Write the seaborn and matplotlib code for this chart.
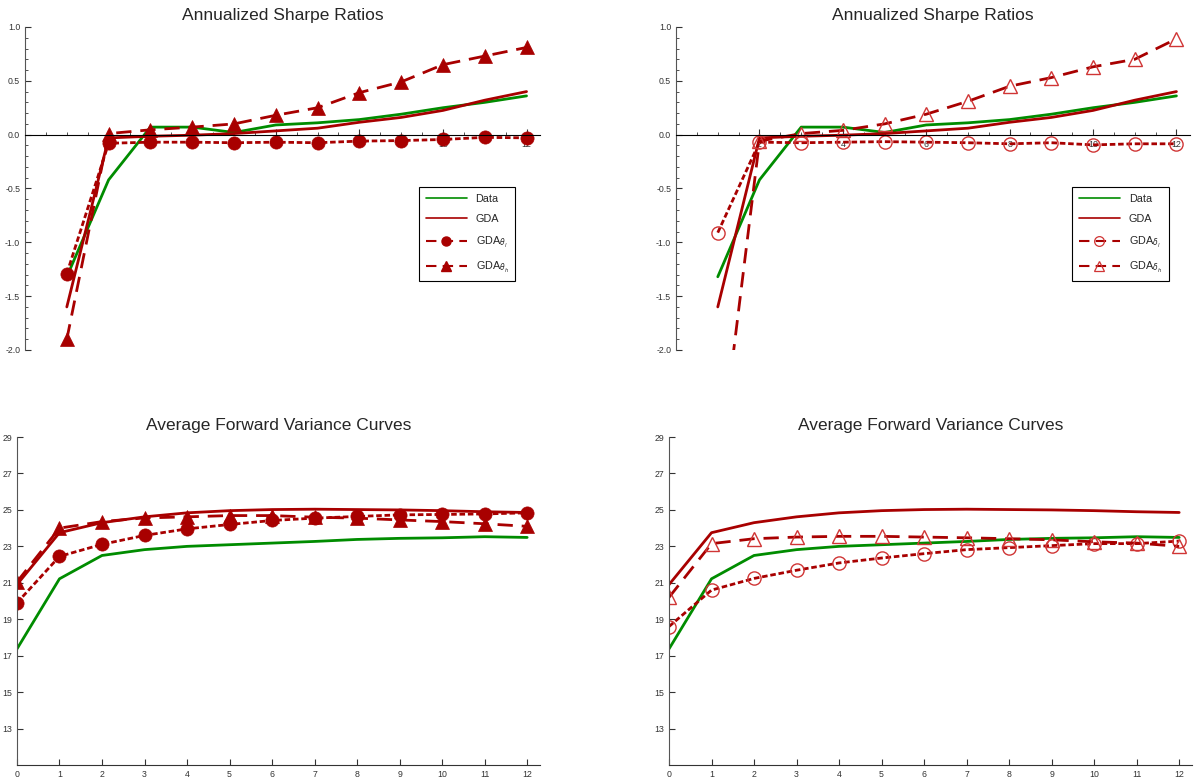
import matplotlib
matplotlib.use("Agg")
import matplotlib.pyplot as plt
import matplotlib.ticker as mticker
from matplotlib.lines import Line2D
import pandas as pd
import seaborn as sns

sns.set_style("ticks")
plt.rcParams['font.family'] = ['Liberation Sans', 'DejaVu Sans']
plt.rcParams['axes.unicode_minus'] = False

# horizons
h_sharpe = [1, 2, 3, 4, 5, 6, 7, 8, 9, 10, 11, 12]
h_fv = [0, 1, 2, 3, 4, 5, 6, 7, 8, 9, 10, 11, 12]

# Annualized Sharpe ratios
sharpe_data = [-1.32, -0.42, 0.07, 0.07, 0.02, 0.09, 0.11, 0.14, 0.19, 0.25, 0.30, 0.36]
sharpe_gda = [-1.60, -0.03, -0.015, -0.005, 0.01, 0.035, 0.06, 0.115, 0.16, 0.225, 0.32, 0.40]
sharpe_theta_l = [-1.29, -0.08, -0.07, -0.07, -0.075, -0.07, -0.075, -0.06, -0.055, -0.045, -0.025, -0.03]
sharpe_theta_h = [-1.90, 0.01, 0.045, 0.07, 0.10, 0.18, 0.25, 0.39, 0.49, 0.65, 0.73, 0.81]
sharpe_delta_l = [-0.91, -0.07, -0.075, -0.07, -0.065, -0.07, -0.075, -0.085, -0.075, -0.095, -0.085, -0.085]
sharpe_delta_h = [-3.20, -0.06, 0.01, 0.04, 0.10, 0.19, 0.31, 0.45, 0.53, 0.63, 0.70, 0.89]

# Average forward variance curves
fv_data = [17.37, 21.22, 22.50, 22.82, 23.00, 23.09, 23.18, 23.27, 23.38, 23.44, 23.47, 23.53, 23.49]
fv_gda = [20.90, 23.75, 24.30, 24.62, 24.84, 24.96, 25.02, 25.04, 25.02, 25.00, 24.96, 24.90, 24.86]
fv_theta_l = [19.90, 22.45, 23.11, 23.60, 23.96, 24.20, 24.42, 24.55, 24.64, 24.73, 24.75, 24.78, 24.84]
fv_theta_h = [21.05, 24.00, 24.36, 24.56, 24.62, 24.69, 24.69, 24.60, 24.55, 24.45, 24.36, 24.24, 24.10]
fv_delta_l = [18.60, 20.60, 21.24, 21.69, 22.09, 22.36, 22.60, 22.82, 22.93, 23.04, 23.15, 23.15, 23.29]
fv_delta_h = [20.20, 23.15, 23.42, 23.51, 23.55, 23.55, 23.51, 23.47, 23.42, 23.36, 23.25, 23.18, 23.00]

GREEN = "#008C00"
RED = "#A80000"
LRED = "#D03535"
DOT = (0, (2.0, 1.0))
DASH = (0, (5.5, 3.2))
LW = 2.0


def draw(ax, x, data, gda, low, high, open_mk):
    df = pd.DataFrame({"h": x, "data": data, "gda": gda, "low": low, "high": high})
    sns.lineplot(data=df, x="h", y="data", ax=ax, color=GREEN, lw=LW, legend=False)
    sns.lineplot(data=df, x="h", y="gda", ax=ax, color=RED, lw=LW, legend=False)
    if open_mk:
        mk = dict(markerfacecolor="none", markeredgecolor=LRED, markeredgewidth=1.0, markersize=9.5)
    else:
        mk = dict(markerfacecolor=RED, markeredgecolor=RED, markeredgewidth=0.5, markersize=9.5)
    sns.lineplot(data=df, x="h", y="low", ax=ax, color=RED, lw=LW, linestyle=DOT,
                 marker="o", legend=False, **mk)
    sns.lineplot(data=df, x="h", y="high", ax=ax, color=RED, lw=LW, linestyle=DASH,
                 marker="^", legend=False, **mk)
    ax.set_xlabel("")
    ax.set_ylabel("")
    for s in ["top", "right"]:
        ax.spines[s].set_visible(False)
    ax.tick_params(direction="in", labelsize=6.3, colors="#333333", length=4, width=0.8)
    ax.tick_params(which="minor", direction="in", length=2.5, width=0.6, colors="#333333")


def add_legend(ax, sub_l, sub_h, open_mk, anchor):
    if open_mk:
        mk = dict(markerfacecolor="none", markeredgecolor=LRED, markeredgewidth=0.9, markersize=7)
    else:
        mk = dict(markerfacecolor=RED, markeredgecolor=RED, markersize=6.5)
    handles = [
        Line2D([], [], color=GREEN, lw=1.2),
        Line2D([], [], color=RED, lw=1.2),
        Line2D([], [], color=RED, lw=1.5, linestyle=(0, (5, 3)), marker="o", **mk),
        Line2D([], [], color=RED, lw=1.5, linestyle=(0, (5, 3)), marker="^", **mk),
    ]
    labels = ["Data", "GDA", "GDA$_{%s}$" % sub_l, "GDA$_{%s}$" % sub_h]
    leg = ax.legend(handles, labels, loc="upper left", bbox_to_anchor=anchor, fontsize=7.8,
                    frameon=True, fancybox=False, edgecolor="black", framealpha=1,
                    handlelength=3.8, labelspacing=0.95, borderpad=0.6, numpoints=1,
                    handletextpad=0.8)
    leg.get_frame().set_linewidth(0.8)


fig = plt.figure(figsize=(12.03, 7.8), dpi=100)
ax_tl = fig.add_axes([0.0208, 0.5513, 0.428, 0.4141])
ax_tr = fig.add_axes([0.5620, 0.5513, 0.427, 0.4141])
ax_bl = fig.add_axes([0.0141, 0.0192, 0.4347, 0.4205])
ax_br = fig.add_axes([0.5561, 0.0192, 0.4347, 0.4205])

panels = [
    (ax_tl, h_sharpe, sharpe_data, sharpe_gda, sharpe_theta_l, sharpe_theta_h, False),
    (ax_tr, h_sharpe, sharpe_data, sharpe_gda, sharpe_delta_l, sharpe_delta_h, True),
    (ax_bl, h_fv, fv_data, fv_gda, fv_theta_l, fv_theta_h, False),
    (ax_br, h_fv, fv_data, fv_gda, fv_delta_l, fv_delta_h, True),
]
for ax, x, d, g, lo, hi, op in panels:
    draw(ax, x, d, g, lo, hi, op)

for ax in [ax_tl, ax_tr]:
    ax.set_xlim(0, 12.32)
    ax.set_ylim(-2.0, 1.0)
    ax.spines["bottom"].set_position(("data", 0))
    ax.spines["bottom"].set_color("black")
    ax.spines["left"].set_color("#555555")
    ax.set_xticks([2, 4, 6, 8, 10, 12])
    ax.xaxis.set_minor_locator(mticker.MultipleLocator(0.5))
    ax.set_yticks([-2.0, -1.5, -1.0, -0.5, 0.0, 0.5, 1.0])
    ax.yaxis.set_minor_locator(mticker.MultipleLocator(0.1))
    ax.yaxis.set_major_formatter(mticker.FormatStrFormatter("%.1f"))
    ax.set_title("Annualized Sharpe Ratios", fontsize=12.5, pad=5)

for ax in [ax_bl, ax_br]:
    ax.set_xlim(0, 12.3)
    ax.set_ylim(11, 29)
    ax.spines["bottom"].set_color("#333333")
    ax.spines["left"].set_color("#555555")
    ax.set_xticks(h_fv)
    ax.set_yticks([13, 15, 17, 19, 21, 23, 25, 27, 29])
    ax.set_title("Average Forward Variance Curves", fontsize=12.5, pad=5)

add_legend(ax_tl, r"\theta_l", r"\theta_h", False, (0.755, 0.52))
add_legend(ax_tr, r"\delta_l", r"\delta_h", True, (0.761, 0.52))

fig.savefig("out.png", dpi=100)
